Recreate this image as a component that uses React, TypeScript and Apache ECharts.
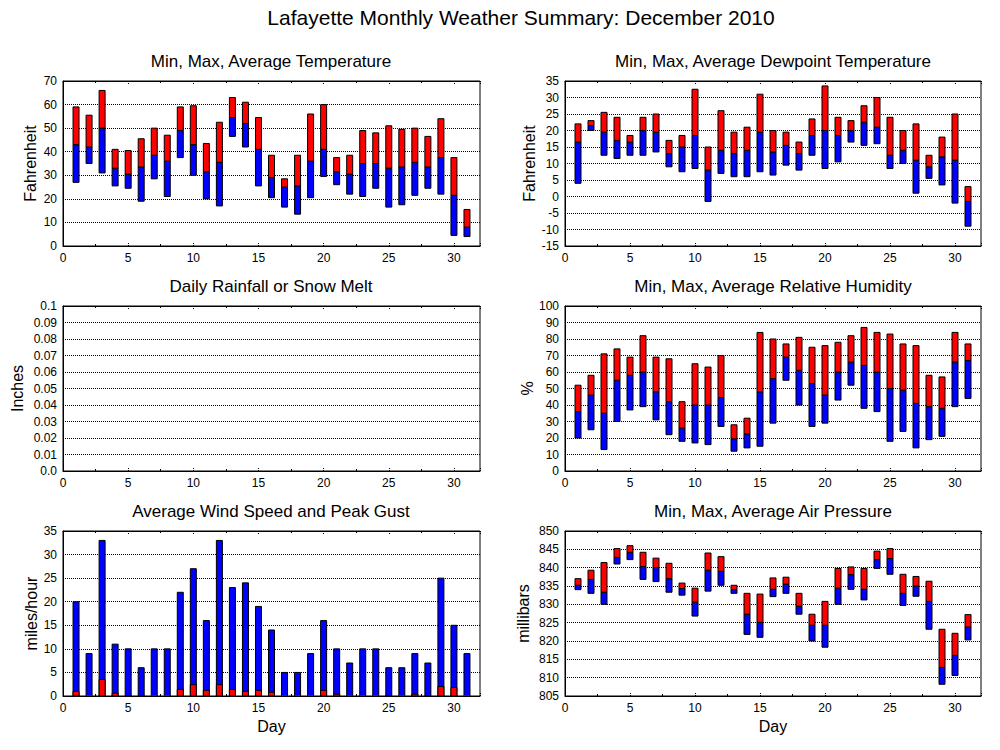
import React, { useEffect, useRef } from "react";
import * as echarts from "echarts";

const days = Array.from({ length: 31 }, (_, i) => i + 1);

const tempMin = [27, 35, 31, 25.5, 24.5, 19, 28.5, 21, 37.5, 30, 20, 17, 46.5, 42, 25.5, 20.5, 16.5, 13.5, 20.5, 29.5, 26, 22, 21, 24.5, 16.5, 17.5, 21.5, 24.5, 22, 4.5, 4];
const tempAvg = [43, 42, 50, 33, 30.5, 33.5, 38.5, 36, 49, 43, 31.5, 35.5, 54.5, 52, 41, 29, 25, 25.5, 36, 41, 31.5, 30.5, 35, 35, 33, 33.5, 35.5, 33.5, 37.5, 21.5, 8];
const tempMax = [59, 55.5, 66, 41, 40.5, 45.5, 50, 47, 59, 59.5, 43.5, 52.5, 63, 61, 54.5, 38.5, 28.5, 38.5, 56, 60, 37.5, 38.5, 49, 48, 51, 49.5, 50, 46.5, 54, 37.5, 15.5];

const dewMin = [4, 20, 12.5, 11.5, 12.5, 12.5, 13.5, 9, 7.5, 8.5, -1.5, 7, 6, 6, 7.5, 6.5, 9.5, 8, 12.5, 8.5, 10.5, 16.5, 15.5, 16, 8.5, 10, 1, 5.5, 3.5, -2, -9];
const dewAvg = [16.5, 21.5, 19.5, 17, 16.5, 20, 19.5, 13, 15, 18.5, 8, 14, 13, 14, 19.5, 13.5, 15.5, 13, 18.5, 20, 18.5, 20, 22.5, 21, 12.5, 14, 11, 9, 12, 11, -1.5];
const dewMax = [22, 23, 25.5, 24, 18.5, 24, 25, 17, 18.5, 32.5, 15, 26, 19.5, 21, 31, 20, 19.5, 16.5, 23.5, 33.5, 24, 23, 27.5, 30, 24, 20, 22, 12.5, 18, 25, 3];

const rain = Array.from({ length: 31 }, () => 0);

const humMin = [20, 25, 13, 30, 37, 39, 31, 22, 18, 17, 16, 27, 12, 14, 15, 29, 55, 40, 27, 29, 43, 52, 38, 36, 18, 24, 14, 19, 21, 39, 44];
const humAvg = [36, 46, 35, 55, 58, 60, 48, 42, 26, 40, 40, 44.5, 19.5, 22.5, 48, 56, 69, 61, 53, 46, 60, 66, 64, 60, 50, 49, 41, 39, 38, 66, 67];
const humMax = [52, 58, 71, 74, 69, 82, 69, 68, 42, 65, 63, 70, 28, 32, 84, 80, 77, 81, 75, 76, 78, 82, 87, 84, 83, 77, 76, 58, 57, 84, 77];

const windAvg = [1, 0.1, 3.5, 0.6, 0, 0, 0.1, 0.1, 1.4, 2.4, 1.2, 2.4, 1.4, 1, 1.2, 0.8, 0.1, 0.1, 0.1, 1.2, 0.4, 0.1, 0.1, 0.1, 0, 0.1, 0.4, 0, 2, 1.8, 0.1];
const windGust = [20, 9, 33, 11, 10, 6, 10, 10, 22, 27, 16, 33, 23, 24, 19, 14, 5, 5, 9, 16, 10, 7, 10, 10, 6, 6, 9, 7, 25, 15, 9];

const presMin = [834, 833, 830, 841, 842.2, 836.8, 836.2, 833.3, 832.5, 826.8, 833.6, 835.2, 833, 821.8, 821, 832.1, 833, 827.3, 820, 818.3, 830, 834.1, 831.2, 839.8, 838.2, 829.7, 832.2, 823.2, 808.2, 810.6, 820.3];
const presAvg = [835.2, 836.8, 833.3, 842.8, 844.2, 840.3, 840, 837, 834.3, 830.6, 839.3, 839, 834, 827.3, 825.1, 834.1, 835.5, 829.5, 824.3, 824.3, 834.4, 838.1, 834.1, 842.2, 842.5, 833, 835, 830.8, 812.8, 816.1, 823.8];
const presMax = [837, 839.3, 841.4, 845.2, 846, 844.2, 842.6, 841.2, 835.8, 834.4, 844, 843, 835.2, 833, 832.8, 837.2, 837.4, 833, 827.3, 830.8, 839.8, 840.2, 839.8, 844.5, 845.2, 838.2, 837.6, 836.3, 823.2, 822.1, 827.2];

const xTicks = [0, 5, 10, 15, 20, 25, 30];

const FONT = "'Liberation Sans', Arial, Helvetica, sans-serif";
const BAR_W = 6;

const floatRender = (params: any, api: any) => {
  const x = api.value(0);
  const lo = api.coord([x, api.value(1)]);
  const mid = api.coord([x, api.value(2)]);
  const hi = api.coord([x, api.value(3)]);
  return {
    type: "group",
    children: [
      {
        type: "rect",
        shape: { x: lo[0] - BAR_W / 2, y: mid[1], width: BAR_W, height: lo[1] - mid[1] },
        style: { fill: "#0000ff", stroke: "#000", lineWidth: 1 },
      },
      {
        type: "rect",
        shape: { x: hi[0] - BAR_W / 2, y: hi[1], width: BAR_W, height: mid[1] - hi[1] },
        style: { fill: "#ff0000", stroke: "#000", lineWidth: 1 },
      },
    ],
  };
};

const windRender = (params: any, api: any) => {
  const x = api.value(0);
  const base = api.coord([x, 0]);
  const avg = api.coord([x, api.value(1)]);
  const gust = api.coord([x, api.value(2)]);
  return {
    type: "group",
    children: [
      {
        type: "rect",
        shape: { x: base[0] - BAR_W / 2, y: gust[1], width: BAR_W, height: base[1] - gust[1] },
        style: { fill: "#0000ff", stroke: "#000", lineWidth: 1 },
      },
      {
        type: "rect",
        shape: { x: base[0] - BAR_W / 2, y: avg[1], width: BAR_W, height: base[1] - avg[1] },
        style: { fill: "#ff0000", stroke: "#000", lineWidth: avg[1] < base[1] - 0.5 ? 1 : 0 },
      },
    ],
  };
};

const rainRender = (params: any, api: any) => {
  const x = api.value(0);
  const base = api.coord([x, 0]);
  const top = api.coord([x, api.value(1)]);
  return {
    type: "rect",
    shape: { x: base[0] - BAR_W / 2, y: top[1], width: BAR_W, height: base[1] - top[1] },
    style: { fill: "#0000ff" },
  };
};

export default function App() {
  const ref = useRef<HTMLDivElement>(null);

  useEffect(() => {
    if (!ref.current) return;
    const chart = echarts.init(ref.current, null, { renderer: "svg" });

    const grids = [
      { left: 63, top: 81, width: 417, height: 165 },
      { left: 565, top: 81, width: 416, height: 165 },
      { left: 63, top: 306, width: 417, height: 165 },
      { left: 565, top: 306, width: 416, height: 165 },
      { left: 63, top: 531, width: 417, height: 165 },
      { left: 565, top: 531, width: 416, height: 165 },
    ].map((g) => ({ ...g, show: true, borderColor: "#000", borderWidth: 1, backgroundColor: "#fff" }));

    const xAxes: any[] = [];
    grids.forEach((_, i) => {
      const bottomRow = i >= 4;
      xAxes.push({
        type: "value",
        gridIndex: i,
        position: "bottom",
        min: 0,
        max: 32,
        interval: 5,
        name: bottomRow ? "Day" : "",
        nameLocation: "middle",
        nameGap: 22,
        nameTextStyle: { fontSize: 16, color: "#000", fontFamily: FONT },
        axisLine: { show: true, onZero: false, lineStyle: { color: "#000", width: 1 } },
        axisTick: { show: true, inside: true, length: 4, lineStyle: { color: "#000", type: "dotted" } },
        minorTick: { show: true, splitNumber: 2, length: 2, lineStyle: { color: "#000" } },
        axisLabel: {
          show: true,
          fontSize: 12,
          color: "#000",
          fontFamily: FONT,
          margin: 6,
          showMaxLabel: false,
          formatter: (v: number) => (xTicks.indexOf(v) >= 0 ? String(v) : ""),
        },
        splitLine: { show: false },
      });
    });
    grids.forEach((_, i) => {
      xAxes.push({
        type: "value",
        gridIndex: i,
        position: "top",
        min: 0,
        max: 32,
        interval: 5,
        axisLine: { show: true, onZero: false, lineStyle: { color: "#000", width: 1 } },
        axisTick: { show: true, inside: true, length: 4, lineStyle: { color: "#000", type: "dotted" } },
        minorTick: { show: true, splitNumber: 2, length: 2, lineStyle: { color: "#000" } },
        axisLabel: { show: false },
        splitLine: { show: false },
      });
    });

    const yDefs = [
      { min: 0, max: 70, interval: 10, name: "Fahrenheit", gap: 25 },
      { min: -15, max: 35, interval: 5, name: "Fahrenheit", gap: 28 },
      { min: 0, max: 0.1, interval: 0.01, name: "Inches", gap: 38, fmt: (v: number) => (v === 0 ? "0.0" : String(Math.round(v * 100) / 100)) },
      { min: 0, max: 100, interval: 10, name: "%", gap: 28 },
      { min: 0, max: 35, interval: 5, name: "miles/hour", gap: 24 },
      { min: 805, max: 850, interval: 5, name: "millibars", gap: 34 },
    ];

    const yAxes = yDefs.map((d, i) => ({
      type: "value",
      gridIndex: i,
      min: d.min,
      max: d.max,
      interval: d.interval,
      name: d.name,
      nameLocation: "middle",
      nameGap: d.gap,
      nameRotate: 90,
      nameTextStyle: { fontSize: 16, color: "#000", fontFamily: FONT },
      axisLine: { show: true, onZero: false, lineStyle: { color: "#000", width: 1 } },
      axisTick: { show: false },
      axisLabel: {
        fontSize: 12,
        color: "#000",
        fontFamily: FONT,
        margin: 6,
        formatter: d.fmt ? d.fmt : (v: number) => String(v),
      },
      splitLine: { show: true, lineStyle: { color: "#000", type: "dotted", width: 1 } },
    }));

    const tempData = days.map((d, i) => [d, tempMin[i], tempAvg[i], tempMax[i]]);
    const dewData = days.map((d, i) => [d, dewMin[i], dewAvg[i], dewMax[i]]);
    const rainData = days.map((d, i) => [d, rain[i]]);
    const humData = days.map((d, i) => [d, humMin[i], humAvg[i], humMax[i]]);
    const windData = days.map((d, i) => [d, windAvg[i], windGust[i]]);
    const presData = days.map((d, i) => [d, presMin[i], presAvg[i], presMax[i]]);

    const mk = (idx: number, data: any[], render: any, ydims: number[]) => ({
      type: "custom",
      xAxisIndex: idx,
      yAxisIndex: idx,
      renderItem: render,
      encode: { x: 0, y: ydims },
      data,
      silent: true,
      z: 3,
    });

    const titles = [
      { text: "Lafayette Monthly Weather Summary: December 2010", x: 521, y: 17, size: 21 },
      { text: "Min, Max, Average Temperature", x: 271, y: 61, size: 17 },
      { text: "Min, Max, Average Dewpoint Temperature", x: 773, y: 61, size: 17 },
      { text: "Daily Rainfall or Snow Melt", x: 271, y: 286, size: 17 },
      { text: "Min, Max, Average Relative Humidity", x: 773, y: 286, size: 17 },
      { text: "Average Wind Speed and Peak Gust", x: 271, y: 511, size: 17 },
      { text: "Min, Max, Average Air Pressure", x: 773, y: 511, size: 17 },
    ];

    chart.setOption({
      animation: false,
      backgroundColor: "#fff",
      textStyle: { fontFamily: FONT, color: "#000" },
      grid: grids,
      xAxis: xAxes,
      yAxis: yAxes,
      graphic: titles.map((t) => ({
        type: "text",
        x: t.x,
        y: t.y,
        style: {
          text: t.text,
          font: `${t.size}px ${FONT}`,
          fill: "#000",
          textAlign: "center",
          textVerticalAlign: "middle",
        },
      })),
      series: [
        mk(0, tempData, floatRender, [1, 2, 3]),
        mk(1, dewData, floatRender, [1, 2, 3]),
        mk(2, rainData, rainRender, [1]),
        mk(3, humData, floatRender, [1, 2, 3]),
        mk(4, windData, windRender, [1, 2]),
        mk(5, presData, floatRender, [1, 2, 3]),
      ],
    });

    return () => chart.dispose();
  }, []);

  return (
    <div
      ref={ref}
      style={{ position: "absolute", left: 0, top: 0, width: 1000, height: 750, background: "#fff" }}
    />
  );
}
